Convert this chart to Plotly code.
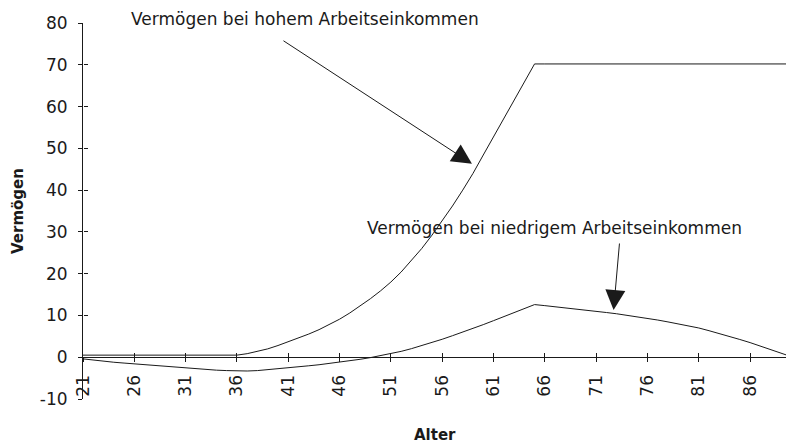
import plotly.graph_objects as go

# ---- data ----
ages = list(range(21, 91))

wealth_high = [
    0.5, 0.5, 0.5, 0.5, 0.5, 0.5, 0.5, 0.5, 0.5, 0.5,        # 21-30
    0.5, 0.5, 0.5, 0.5, 0.5, 0.5, 0.85, 1.35, 2.0, 2.8,      # 31-40
    3.7, 4.6, 5.55, 6.6, 7.8, 9.1, 10.6, 12.2, 14.0, 15.9,   # 41-50
    18.0, 20.4, 23.1, 26.0, 29.2, 32.6, 36.2, 40.0, 44.0, 48.4,  # 51-60
    52.7, 57.0, 61.4, 65.8, 70.2, 70.2, 70.2, 70.2, 70.2, 70.2,  # 61-70
    70.2, 70.2, 70.2, 70.2, 70.2, 70.2, 70.2, 70.2, 70.2, 70.2,  # 71-80
    70.2, 70.2, 70.2, 70.2, 70.2, 70.2, 70.2, 70.2, 70.2, 70.2,  # 81-90
]

wealth_low = [
    -0.4, -0.7, -1.0, -1.2, -1.4, -1.6, -1.8, -2.0, -2.2, -2.4,    # 21-30
    -2.6, -2.8, -2.95, -3.1, -3.2, -3.3, -3.3, -3.2, -3.0, -2.75,  # 31-40
    -2.5, -2.3, -2.05, -1.8, -1.5, -1.2, -0.85, -0.5, -0.1, 0.35,  # 41-50
    0.8, 1.4, 2.05, 2.75, 3.5, 4.3, 5.15, 6.0, 6.9, 7.8,           # 51-60
    8.75, 9.7, 10.65, 11.6, 12.6, 12.35, 12.1, 11.85, 11.6, 11.3,  # 61-70
    11.0, 10.7, 10.4, 10.05, 9.7, 9.3, 8.9, 8.45, 8.0, 7.5,        # 71-80
    7.0, 6.35, 5.7, 5.0, 4.25, 3.5, 2.7, 1.85, 1.0, 0.15,          # 81-90
]

x_ticks = list(range(21, 90, 5))
y_ticks = list(range(-10, 81, 10))

label_high = "Vermögen bei hohem Arbeitseinkommen"
label_low = "Vermögen bei niedrigem Arbeitseinkommen"
arrow_high_target = (58.9, 46.3)
arrow_low_target = (72.7, 11.3)

FONT = "DejaVu Sans"
INK = "#1a1a1a"

fig = go.Figure()
fig.add_trace(go.Scatter(x=ages, y=wealth_high, mode="lines",
                         line=dict(color=INK, width=1), showlegend=False))
fig.add_trace(go.Scatter(x=ages, y=wealth_low, mode="lines",
                         line=dict(color=INK, width=1), showlegend=False))
# dummy trace for the overlay axes (used only to draw crossing tick marks)
fig.add_trace(go.Scatter(x=[None], y=[None], xaxis="x2", yaxis="y2",
                         showlegend=False, hoverinfo="skip"))

zero_pos = (0 - y_ticks[0]) / (y_ticks[-1] - y_ticks[0])

fig.update_layout(
    width=786, height=447,
    margin=dict(l=83, r=0, t=23, b=48),
    paper_bgcolor="white", plot_bgcolor="white",
    font=dict(family=FONT, size=17, color=INK),
    xaxis=dict(
        range=[21, 89.5], tickmode="array", tickvals=x_ticks,
        ticktext=[str(v) for v in x_ticks], tickangle=-90,
        ticks="outside", ticklen=4, tickcolor=INK, tickwidth=1,
        showline=True, linecolor=INK, linewidth=1,
        showgrid=False, zeroline=False, automargin=False,
        anchor="free", position=zero_pos,
        ticklabelstandoff=6,
        tickfont=dict(family=FONT, size=17, color=INK),
    ),
    xaxis2=dict(
        range=[21, 89.5], tickmode="array", tickvals=x_ticks,
        showticklabels=False, ticks="inside", ticklen=4, tickcolor=INK,
        showline=False, showgrid=False, zeroline=False, automargin=False,
        overlaying="x", anchor="free", position=zero_pos,
    ),
    yaxis=dict(
        range=[-10, 80], tickmode="array", tickvals=y_ticks,
        ticktext=[str(v) for v in y_ticks],
        ticks="outside", ticklen=4, tickcolor=INK, tickwidth=1,
        showline=True, linecolor=INK, linewidth=1,
        showgrid=False, zeroline=False, automargin=False,
        ticklabelstandoff=7,
        tickfont=dict(family=FONT, size=17, color=INK),
    ),
    yaxis2=dict(
        range=[-10, 80], tickmode="array", tickvals=y_ticks,
        showticklabels=False, ticks="inside", ticklen=4, tickcolor=INK,
        showline=False, showgrid=False, zeroline=False, automargin=False,
        overlaying="y", anchor="free", position=0, side="left",
    ),
)

annotations = [
    # axis titles
    dict(text="<b>Alter</b>", xref="paper", yref="paper", x=0.5, y=-0.097,
         xanchor="center", yanchor="middle", showarrow=False,
         font=dict(family=FONT, size=15, color=INK)),
    dict(text="<b>Vermögen</b>", xref="paper", yref="paper", x=-0.0925, y=0.5,
         xanchor="center", yanchor="middle", textangle=-90, showarrow=False,
         font=dict(family=FONT, size=15, color=INK)),
    # labels
    dict(text=label_high, xref="paper", yref="paper", x=0.3158, y=1.0106,
         xanchor="center", yanchor="middle", showarrow=False,
         font=dict(family=FONT, size=17, color=INK)),
    dict(text=label_low, xref="paper", yref="paper", x=0.670, y=0.4548,
         xanchor="center", yanchor="middle", showarrow=False,
         font=dict(family=FONT, size=17, color=INK)),
    # arrows
    dict(text="", x=arrow_high_target[0], y=arrow_high_target[1],
         xref="x", yref="y", ax=-190, ay=-124, showarrow=True,
         arrowhead=2, arrowsize=4, arrowwidth=1, arrowcolor=INK),
    dict(text="", x=arrow_low_target[0], y=arrow_low_target[1],
         xref="x", yref="y", ax=6, ay=-68, showarrow=True,
         arrowhead=2, arrowsize=4, arrowwidth=1, arrowcolor=INK),
]
fig.update_layout(annotations=annotations)

fig.write_html(
    "out.html",
    config={"displayModeBar": False},
    post_script="document.body.style.margin='0';document.body.style.overflow='hidden';",
)
